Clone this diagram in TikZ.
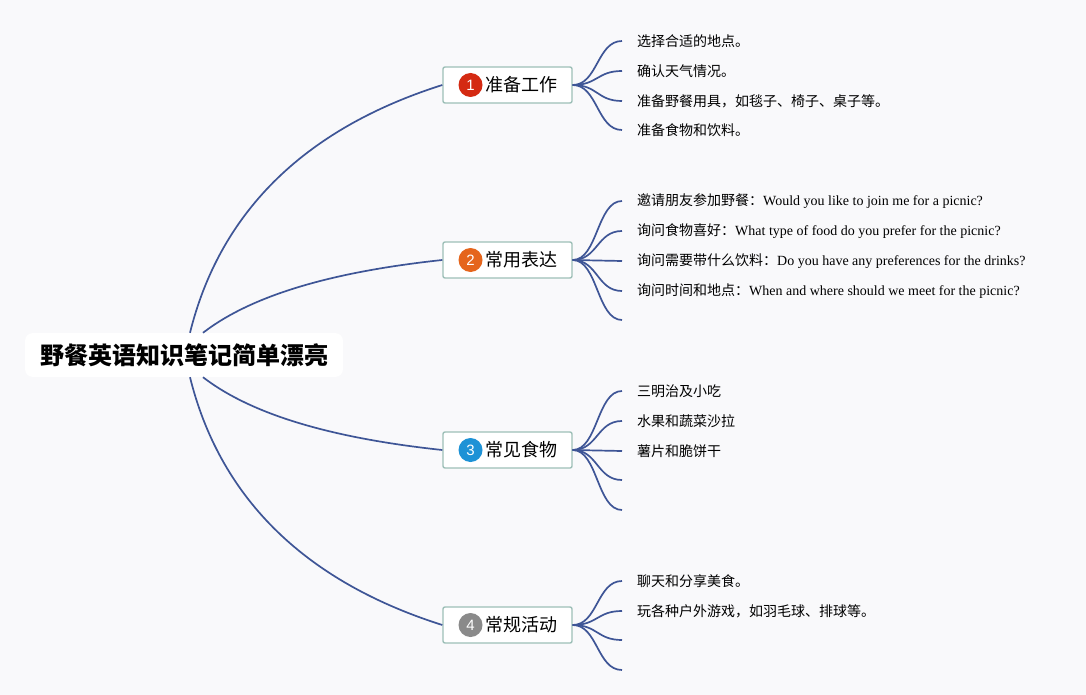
\documentclass[tikz,border=0pt]{standalone}
\usepackage{fontspec}
\setmainfont{Liberation Serif}
\newfontfamily\cjk{Noto Sans CJK SC}
\newfontfamily\numfont{Liberation Sans}
\definecolor{bgc}{HTML}{F9F9FB}
\definecolor{linec}{HTML}{3E5596}
\definecolor{boxline}{HTML}{9DBFB7}
\definecolor{cred}{HTML}{D42A12}
\definecolor{corange}{HTML}{E5651C}
\definecolor{cblue}{HTML}{1D92D6}
\definecolor{cgray}{HTML}{8A8A8A}
\tikzset{
  rootbox/.style={fill=white, rounded corners=8pt, minimum width=318pt, minimum height=44pt, inner sep=0pt,
    font=\cjk\bfseries\fontsize{24}{28}\selectfont},
  branchbox/.style={draw=boxline, line width=1.4pt, fill=white, rounded corners=2pt, minimum width=129pt, minimum height=36pt, inner sep=0pt},
  branchtext/.style={anchor=west, inner sep=0pt, font=\cjk\fontsize{18}{22}\selectfont},
  numdot/.style={circle, minimum size=24pt, inner sep=0pt, text=white, font=\numfont\fontsize{15}{18}\selectfont},
  leaf/.style={anchor=west, inner sep=0pt, font=\cjk\fontsize{14}{17}\selectfont},
  conn/.style={draw=linec, line width=1.7pt},
  sub/.style={draw=linec, line width=1.7pt},
}
\begin{document}
\begin{tikzpicture}[x=1pt, y=-1pt]
\fill[bgc] (0,0) rectangle (1086,695);
\useasboundingbox (0,0) rectangle (1086,695);

% root
\node[rootbox] (root) at (184,355) {野餐英语知识笔记简单漂亮};

% branches
\node[branchbox] (b1) at (507.5,85) {};
\node[branchbox] (b2) at (507.5,260) {};
\node[branchbox] (b3) at (507.5,450) {};
\node[branchbox] (b4) at (507.5,625) {};
\node[numdot, fill=cred] (n1) at (470.5,85) {1};
\node[numdot, fill=corange] (n2) at (470.5,260) {2};
\node[numdot, fill=cblue] (n3) at (470.5,450) {3};
\node[numdot, fill=cgray] (n4) at (470.5,625) {4};
\node[branchtext] (t1) at (485.5,85) {准备工作};
\node[branchtext] (t2) at (485.5,260) {常用表达};
\node[branchtext] (t3) at (485.5,450) {常见食物};
\node[branchtext] (t4) at (485.5,625) {常规活动};

% root connectors
\draw[conn] ([xshift=6pt]root.north) .. controls +(29,-117) and +(-142,45) .. (b1.west);
\draw[conn] ([xshift=19pt]root.north) .. controls +(48,-37) and +(-112,12) .. (b2.west);
\draw[conn] ([xshift=19pt]root.south) .. controls +(48,37) and +(-112,-12) .. (b3.west);
\draw[conn] ([xshift=6pt]root.south) .. controls +(29,117) and +(-142,-45) .. (b4.west);

% leaves branch 1
\node[leaf] (l11) at (637,41) {选择合适的地点。};
\node[leaf] (l12) at (637,71) {确认天气情况。};
\node[leaf] (l13) at (637,101) {准备野餐用具，如毯子、椅子、桌子等。};
\node[leaf] (l14) at (637,130) {准备食物和饮料。};
\foreach \l in {l11,l12,l13,l14}
  \draw[sub] (b1.east) .. controls +(25,0) and +(-25,0) .. ([xshift=-15pt]\l.west);

% leaves branch 2
\node[leaf] (l21) at (637,201) {邀请朋友参加野餐：\rmfamily Would you like to join me for a picnic?};
\node[leaf] (l22) at (637,231) {询问食物喜好：\rmfamily What type of food do you prefer for the picnic?};
\node[leaf] (l23) at (637,261) {询问需要带什么饮料：\rmfamily Do you have any preferences for the drinks?};
\node[leaf] (l24) at (637,291) {询问时间和地点：\rmfamily When and where should we meet for the picnic?};
\coordinate (e25) at (622,320);
\foreach \l in {l21,l22,l23,l24}
  \draw[sub] (b2.east) .. controls +(25,0) and +(-25,0) .. ([xshift=-15pt]\l.west);
\draw[sub] (b2.east) .. controls +(25,0) and +(-25,0) .. (e25);

% leaves branch 3
\node[leaf] (l31) at (637,391) {三明治及小吃};
\node[leaf] (l32) at (637,421) {水果和蔬菜沙拉};
\node[leaf] (l33) at (637,451) {薯片和脆饼干};
\coordinate (e34) at (622,480);
\coordinate (e35) at (622,510);
\foreach \l in {l31,l32,l33}
  \draw[sub] (b3.east) .. controls +(25,0) and +(-25,0) .. ([xshift=-15pt]\l.west);
\foreach \e in {e34,e35}
  \draw[sub] (b3.east) .. controls +(25,0) and +(-25,0) .. (\e);

% leaves branch 4
\node[leaf] (l41) at (637,581) {聊天和分享美食。};
\node[leaf] (l42) at (637,611) {玩各种户外游戏，如羽毛球、排球等。};
\coordinate (e43) at (622,640);
\coordinate (e44) at (622,670);
\foreach \l in {l41,l42}
  \draw[sub] (b4.east) .. controls +(25,0) and +(-25,0) .. ([xshift=-15pt]\l.west);
\foreach \e in {e43,e44}
  \draw[sub] (b4.east) .. controls +(25,0) and +(-25,0) .. (\e);
\end{tikzpicture}
\end{document}
